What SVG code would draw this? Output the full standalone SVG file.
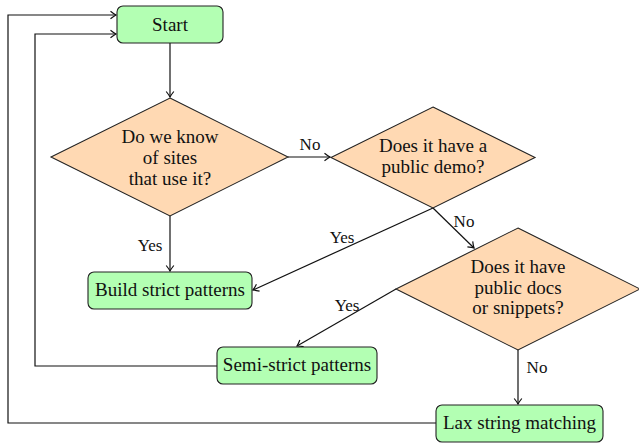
<svg xmlns="http://www.w3.org/2000/svg" width="639" height="443" viewBox="0 0 639 443">
<style>
.box{fill:#b3ffb3;stroke:#222;stroke-width:1.1}
.dia{fill:#ffd9b3;stroke:#222;stroke-width:1.1}
.t{font-family:"Liberation Serif","Times New Roman",serif;font-size:19px;fill:#111;text-anchor:middle}
.l{font-family:"Liberation Serif","Times New Roman",serif;font-size:17px;fill:#111;text-anchor:middle}
.c{fill:none;stroke:#111;stroke-width:1.2}
</style>
<defs>
<marker id="ar" markerUnits="userSpaceOnUse" markerWidth="12" markerHeight="12" viewBox="-7 -6 8 12" refX="0" refY="0" orient="auto">
<path d="M-5.5,-3.8 Q-2,-1 0,0 Q-2,1 -5.5,3.8" fill="none" stroke="#111" stroke-width="1.2"/>
</marker>
</defs>
<g id="connectors">
<path class="c" d="M170,43 V97" marker-end="url(#ar)"/>
<path class="c" d="M170,216 V271" marker-end="url(#ar)"/>
<path class="c" d="M288,157 H330" marker-end="url(#ar)"/>
<path class="c" d="M433,208 L253,290" marker-end="url(#ar)"/>
<path class="c" d="M433,208 L474,248" marker-end="url(#ar)"/>
<path class="c" d="M396,289 L297,346" marker-end="url(#ar)"/>
<path class="c" d="M518,350 V404" marker-end="url(#ar)"/>
<path class="c" d="M217,366 H35 V34 H116" marker-end="url(#ar)"/>
<path class="c" d="M436,423 H8 V15 H116" marker-end="url(#ar)"/>
<text class="l" x="310" y="150">No</text>
<text class="l" x="150" y="251">Yes</text>
<text class="l" x="342" y="243">Yes</text>
<text class="l" x="464" y="227">No</text>
<text class="l" x="347" y="311">Yes</text>
<text class="l" x="537" y="373">No</text>
</g>
<g id="start">
<rect class="box" x="117" y="6" width="106" height="37" rx="6"/>
<text class="t" x="170" y="31">Start</text>
</g>
<g id="q1">
<polygon class="dia" points="170,98 288,157 170,216 51,157"/>
<text class="t" x="170" y="143">Do we know</text>
<text class="t" x="170" y="164">of sites</text>
<text class="t" x="170" y="185">that use it?</text>
</g>
<g id="q2">
<polygon class="dia" points="433,107 535,157.5 433,208 331,157.5"/>
<text class="t" x="433" y="152">Does it have a</text>
<text class="t" x="433" y="173">public demo?</text>
</g>
<g id="q3">
<polygon class="dia" points="518,228 640,289 518,350 396,289"/>
<text class="t" x="518" y="273">Does it have</text>
<text class="t" x="518" y="294">public docs</text>
<text class="t" x="518" y="314">or snippets?</text>
</g>
<g id="strict">
<rect class="box" x="88" y="272" width="164" height="37" rx="6"/>
<text class="t" x="170" y="296">Build strict patterns</text>
</g>
<g id="semi">
<rect class="box" x="217" y="347" width="160" height="37" rx="6"/>
<text class="t" x="297" y="371">Semi-strict patterns</text>
</g>
<g id="lax">
<rect class="box" x="436" y="405" width="167" height="37" rx="6"/>
<text class="t" x="519.5" y="429">Lax string matching</text>
</g>
</svg>
